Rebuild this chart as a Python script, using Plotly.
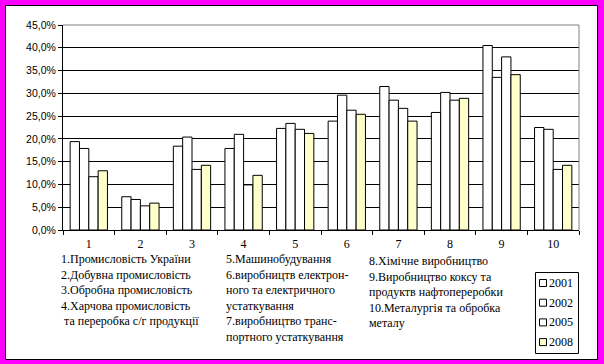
import plotly.graph_objects as go

# ---------------- data ----------------
categories = ["1", "2", "3", "4", "5", "6", "7", "8", "9", "10"]
years = ["2001", "2002", "2005", "2008"]
values_2001 = [19.4, 7.3, 18.4, 17.9, 22.3, 23.9, 31.5, 25.8, 40.5, 22.5]
values_2002 = [17.9, 6.7, 20.4, 21.0, 23.4, 29.6, 28.5, 30.2, 33.5, 22.1]
values_2005 = [11.7, 5.3, 13.3, 9.9, 22.1, 26.3, 26.7, 28.5, 38.0, 13.3]
values_2008 = [13.0, 5.9, 14.2, 12.0, 21.2, 25.4, 23.9, 28.9, 34.1, 14.2]
y_ticks = [0, 5, 10, 15, 20, 25, 30, 35, 40, 45]

notes_col1 = ["1.Промисловість України", "2.Добувна промисловість",
              "3.Обробна промисловість", "4.Харчова промисловість",
              "\u00a0та переробка с/г продукції"]
notes_col2 = ["5.Машинобудування", "6.виробництв електрон-",
              "ного та електричного", "устаткування",
              "7.виробництво транс-", "портного устаткування"]
notes_col3 = ["8.Хімічне виробництво", "9.Виробництво коксу та",
              "продуктв нафтопереробки", "10.Металургія та обробка", "металу"]

series = [values_2001, values_2002, values_2005, values_2008]
fills = ["#FFFFFF", "#FFFFFF", "#FFFFFF", "#FFFFCC"]

# ---------------- layout geometry (pixels) ----------------
W, H = 604, 364
L, R, T, B = 63, 25, 25, 134
PW, PH = W - L - R, H - T - B


def px(x):
    return (x - L) / PW


def py(y):
    return (H - B - y) / PH


serif = "Liberation Serif"
sans = "Liberation Sans"

fig = go.Figure()
for name, vals, col in zip(years, series, fills):
    fig.add_trace(go.Bar(
        x=categories, y=[v / 100 for v in vals], name=name,
        marker=dict(color=col, line=dict(color="#000000", width=1)),
        showlegend=False,
    ))

shapes = []
# white card with black border over magenta background
shapes.append(dict(type="rect", xref="paper", yref="paper",
                   x0=px(5.5), x1=px(597.5), y0=py(359.5), y1=py(5.5),
                   fillcolor="#FFFFFF", line=dict(color="#000000", width=1),
                   layer="below"))
# plot area border (gray top/right)
shapes.append(dict(type="line", xref="paper", yref="paper", x0=0, x1=1, y0=1, y1=1,
                   line=dict(color="#808080", width=1)))
shapes.append(dict(type="line", xref="paper", yref="paper", x0=1, x1=1, y0=0, y1=1,
                   line=dict(color="#808080", width=1)))

annotations = []
for xpos, ypos, lines in [(59, 250, notes_col1), (224, 250, notes_col2), (367, 252, notes_col3)]:
    annotations.append(dict(
        xref="paper", yref="paper", x=px(xpos), y=py(ypos),
        xanchor="left", yanchor="top", align="left", showarrow=False,
        text="<br>".join(lines),
        font=dict(family=serif, size=12, color="#000000"),
    ))

# custom legend box
lx0, lx1, ly0, ly1 = 535.5, 578.5, 272.5, 353.5
shapes.append(dict(type="rect", xref="paper", yref="paper",
                   x0=px(lx0), x1=px(lx1), y0=py(ly1), y1=py(ly0),
                   fillcolor="#FFFFFF", line=dict(color="#000000", width=1)))
for i, (name, col) in enumerate(zip(years, fills)):
    cy = 283 + i * 19.7
    shapes.append(dict(type="rect", xref="paper", yref="paper",
                       x0=px(539.5), x1=px(546.5), y0=py(cy + 3.5), y1=py(cy - 3.5),
                       fillcolor=col, line=dict(color="#000000", width=1)))
    annotations.append(dict(
        xref="paper", yref="paper", x=px(547), y=py(cy),
        xanchor="left", yanchor="middle", showarrow=False, text=name,
        font=dict(family=serif, size=12, color="#000000"),
    ))

fig.update_layout(
    width=W, height=H, autosize=False,
    margin=dict(l=L, r=R, t=T, b=B, pad=0),
    paper_bgcolor="#FF00FF", plot_bgcolor="#FFFFFF",
    barmode="group", bargap=0.277, bargroupgap=0,
    separators=", ",
    shapes=shapes, annotations=annotations,
    xaxis=dict(
        type="category", tickson="boundaries", ticks="outside", ticklen=4,
        tickcolor="#000000", showline=True, linecolor="#000000", linewidth=1,
        showgrid=False, tickfont=dict(family=serif, size=12, color="#000000"),
        range=[-0.5, 9.5], ticklabelstandoff=3,
    ),
    yaxis=dict(
        range=[0, 0.45], tickvals=[v / 100 for v in y_ticks], tickformat=".1%",
        ticks="outside", ticklen=4, tickcolor="#000000",
        showline=True, linecolor="#000000", linewidth=1,
        showgrid=True, gridcolor="#000000", gridwidth=1, zeroline=False,
        tickfont=dict(family=sans, size=10.5, color="#000000"),
    ),
)

fig.write_html(
    "out.html",
    config={"displayModeBar": False},
    post_script="document.body.style.margin='0';document.body.style.overflow='hidden';",
)
